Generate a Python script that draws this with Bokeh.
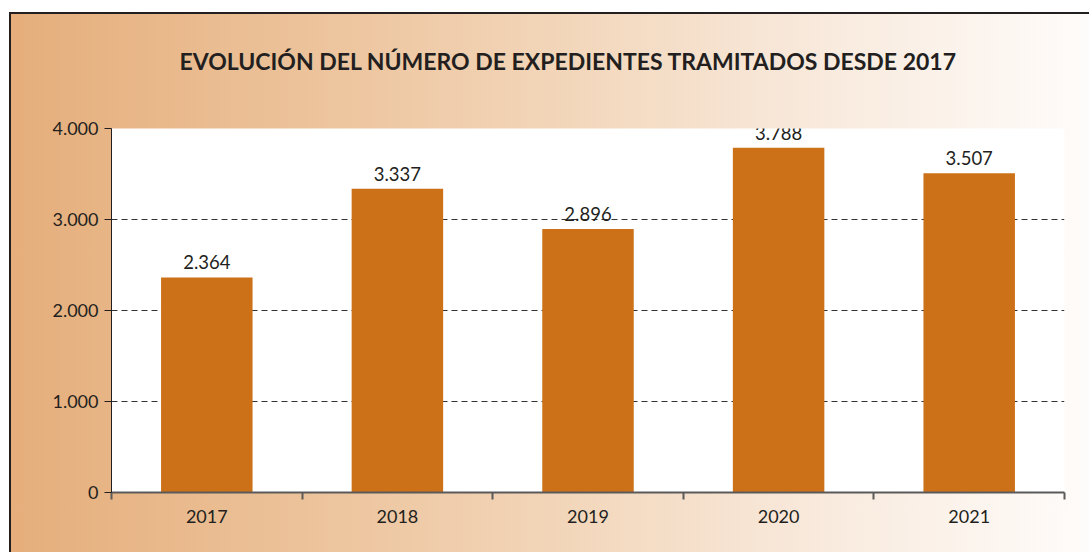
from bokeh.plotting import figure
from bokeh.models import Range1d, FixedTicker, Title, ColumnDataSource
from bokeh.core.properties import value
from bokeh.embed import file_html
from bokeh.resources import INLINE

years = ["2017", "2018", "2019", "2020", "2021"]
counts = [2364, 3337, 2896, 3788, 3507]
y_ticks = [0, 1000, 2000, 3000, 4000]
y_tick_labels = ["0", "1.000", "2.000", "3.000", "4.000"]
title_text = "EVOLUCIÓN DEL NÚMERO DE EXPEDIENTES TRAMITADOS DESDE 2017"

FONT = "Lato"
TXT = "#231f20"

centers = [i + 0.5 for i in range(len(years))]
value_labels = [f"{v:,}".replace(",", ".") for v in counts]
src = ColumnDataSource(dict(x=centers, top=counts, lab=value_labels))

p = figure(width=1080, height=540, output_backend="svg", toolbar_location=None,
           x_range=Range1d(0, len(years)), y_range=Range1d(0, 4000),
           min_border_left=100, min_border_right=27, min_border_top=114,
           min_border_bottom=62, outline_line_color=None)
p.border_fill_color = None
p.background_fill_color = "white"
p.styles = {
    "background": "linear-gradient(90deg, #E5AE7B 0%, #ECC29A 27%, #F2D5B8 50%, #F8E8DA 73%, #FEFCFA 100%)",
    "border-top": "2px solid #231f20",
    "border-left": "2px solid #231f20",
    "position": "relative",
    "top": "12px",
    "left": "9px",
}

p.vbar(x="x", top="top", width=0.48, bottom=0, source=src,
       fill_color="#CC7118", line_color=None)

p.text(x="x", y="top", text="lab", source=src, text_align="center",
       text_baseline="alphabetic", y_offset=-15, text_font=value(FONT),
       text_font_size="18.5px", text_color=TXT)

# y axis
p.yaxis.ticker = FixedTicker(ticks=y_ticks)
p.yaxis.major_label_overrides = {t: l for t, l in zip(y_ticks, y_tick_labels)}
p.yaxis.axis_line_color = TXT
p.yaxis.axis_line_width = 1
p.yaxis.major_tick_out = 7
p.yaxis.major_tick_in = 0
p.yaxis.major_tick_line_color = TXT
p.yaxis.minor_tick_line_color = None
p.yaxis.major_label_standoff = 6
p.yaxis.major_label_text_font = FONT
p.yaxis.major_label_text_font_size = "18px"
p.yaxis.major_label_text_color = TXT

# x axis
p.xaxis.ticker = FixedTicker(ticks=centers, minor_ticks=list(range(len(years) + 1)))
p.xaxis.major_label_overrides = {c: y for c, y in zip(centers, years)}
p.xaxis.axis_line_color = "#5a5a5a"
p.xaxis.axis_line_width = 2
p.xaxis.major_tick_line_color = None
p.xaxis.major_tick_out = 0
p.xaxis.minor_tick_out = 7
p.xaxis.minor_tick_in = 0
p.xaxis.minor_tick_line_color = "#5a5a5a"
p.xaxis.minor_tick_line_width = 2
p.xaxis.major_label_standoff = 10
p.xaxis.major_label_text_font = FONT
p.xaxis.major_label_text_font_size = "18px"
p.xaxis.major_label_text_color = TXT

p.xgrid.grid_line_color = None
p.ygrid.ticker = FixedTicker(ticks=y_ticks[1:])
p.ygrid.grid_line_color = "#333333"
p.ygrid.grid_line_dash = "6 4"
p.ygrid.grid_line_width = 1

p.add_layout(Title(text=" ", text_font_size="33px"), "above")
p.add_layout(Title(text=title_text, align="left", offset=68,
                   text_font=FONT, text_font_style="bold", text_font_size="23px",
                   text_color=TXT), "above")

open("out.html", "w").write(file_html(p, INLINE))
